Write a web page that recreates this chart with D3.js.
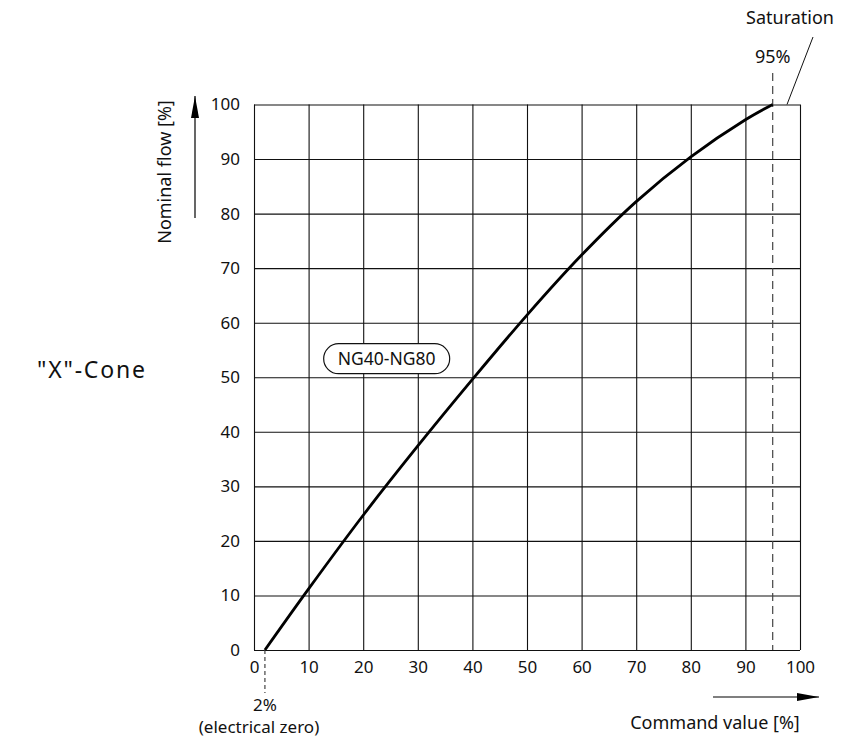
<!DOCTYPE html>
<html>
<head>
<meta charset="utf-8">
<script src="https://cdn.jsdelivr.net/npm/d3@7"></script>
<style>
  body { margin: 0; background: #fff; }
  svg { display: block; font-family: "Noto Sans", "Open Sans", sans-serif; }
</style>
</head>
<body>
<div id="chart"></div>
<script>
// --------------- Data ---------------
const commandValue = [2, 10, 20, 30, 40, 50, 60, 70, 80, 90, 95];
const nominalFlow = [0, 11.2, 24.7, 37.4, 49.6, 61.4, 72.4, 82.2, 90.4, 97.2, 100];
const tickValues = [0, 10, 20, 30, 40, 50, 60, 70, 80, 90, 100];
const electricalZero = 2;
const saturation = 95;

// --------------- Prep SVG ---------------
const W = 843, H = 742;
const FS = 17;
const svg = d3.select("#chart").append("svg").attr("width", W).attr("height", H);

const x = d3.scaleLinear().domain([0, 100]).range([254, 800]);
const y = d3.scaleLinear().domain([0, 100]).range([650, 104.5]);

// grid via axes
const gx = svg.append("g")
  .attr("transform", `translate(0,${y(0)})`)
  .call(d3.axisBottom(x).tickValues(tickValues).tickSize(-(y(0) - y(100))).tickPadding(13));
const gy = svg.append("g")
  .attr("transform", `translate(${x(0)},0)`)
  .call(d3.axisLeft(y).tickValues(tickValues).tickSize(-(x(100) - x(0))).tickPadding(14));

[gx, gy].forEach((g) => {
  g.select(".domain").remove();
  g.selectAll(".tick line").attr("stroke", "#111").attr("stroke-width", 1.1);
  g.selectAll(".tick text").attr("font-size", FS).attr("fill", "#111")
    .attr("font-family", "Noto Sans, sans-serif");
});
gx.selectAll(".tick text").attr("dy", "0.6em");

// dashed markers
svg.append("line")
  .attr("x1", x(saturation)).attr("x2", x(saturation))
  .attr("y1", 73).attr("y2", y(0))
  .attr("stroke", "#444").attr("stroke-width", 1.2).attr("stroke-dasharray", "8,5");
svg.append("line")
  .attr("x1", x(electricalZero)).attr("x2", x(electricalZero))
  .attr("y1", y(0)).attr("y2", 693)
  .attr("stroke", "#444").attr("stroke-width", 1.2).attr("stroke-dasharray", "4,3");

// curve
const line = d3.line()
  .x((d, i) => x(commandValue[i]))
  .y((d) => y(d))
  .curve(d3.curveCatmullRom);
svg.append("path")
  .datum(nominalFlow)
  .attr("d", line)
  .attr("fill", "none")
  .attr("stroke", "#000")
  .attr("stroke-width", 2.8);

// NG label box
const box = svg.append("g").attr("transform", `translate(${x(24.3)},${y(53.4)})`);
box.append("rect")
  .attr("x", -63).attr("y", -15).attr("width", 126).attr("height", 30)
  .attr("rx", 15).attr("fill", "#fff").attr("stroke", "#111").attr("stroke-width", 1.2);
box.append("text").attr("text-anchor", "middle").attr("dy", "0.36em")
  .attr("font-size", 17.5).attr("fill", "#111").text("NG40-NG80");

// saturation annotation
svg.append("line")
  .attr("x1", 787).attr("y1", y(100)).attr("x2", 813).attr("y2", 37)
  .attr("stroke", "#111").attr("stroke-width", 1);
svg.append("text").attr("x", 790).attr("y", 18).attr("dy", "0.35em")
  .attr("text-anchor", "middle").attr("font-size", 18).attr("fill", "#111").text("Saturation");
svg.append("text").attr("x", x(saturation)).attr("y", 57).attr("dy", "0.35em")
  .attr("text-anchor", "middle").attr("font-size", 18).attr("fill", "#111").text("95%");

// electrical zero annotation
svg.append("text").attr("x", x(electricalZero)).attr("y", 705).attr("dy", "0.35em")
  .attr("text-anchor", "middle").attr("font-size", FS).attr("fill", "#111").text("2%");
svg.append("text").attr("x", 259).attr("y", 727).attr("dy", "0.35em")
  .attr("text-anchor", "middle").attr("font-size", FS).attr("fill", "#111").text("(electrical zero)");

// arrows
svg.append("defs").append("marker")
  .attr("id", "arrow").attr("viewBox", "0 0 22 8")
  .attr("refX", 22).attr("refY", 4)
  .attr("markerWidth", 22).attr("markerHeight", 8)
  .attr("markerUnits", "userSpaceOnUse").attr("orient", "auto")
  .append("path").attr("d", "M0,0L22,4L0,8Z").attr("fill", "#000");

svg.append("line")
  .attr("x1", 713).attr("y1", 697).attr("x2", 819).attr("y2", 697)
  .attr("stroke", "#000").attr("stroke-width", 1.2).attr("marker-end", "url(#arrow)");
svg.append("line")
  .attr("x1", 195).attr("y1", 218).attr("x2", 195).attr("y2", 96)
  .attr("stroke", "#000").attr("stroke-width", 1.2).attr("marker-end", "url(#arrow)");

// axis titles
svg.append("text").attr("x", 715).attr("y", 723).attr("dy", "0.35em")
  .attr("text-anchor", "middle").attr("font-size", 18).attr("fill", "#111").text("Command value [%]");
svg.append("text")
  .attr("transform", "translate(165,172) rotate(-90)")
  .attr("dy", "0.35em").attr("text-anchor", "middle")
  .attr("font-size", 18).attr("fill", "#111").text("Nominal flow [%]");

// cone label
svg.append("text").attr("x", 37).attr("y", 370).attr("dy", "0.35em")
  .attr("font-size", 23).attr("letter-spacing", 1.8).attr("fill", "#111").text("\"X\"-Cone");
</script>
</body>
</html>
